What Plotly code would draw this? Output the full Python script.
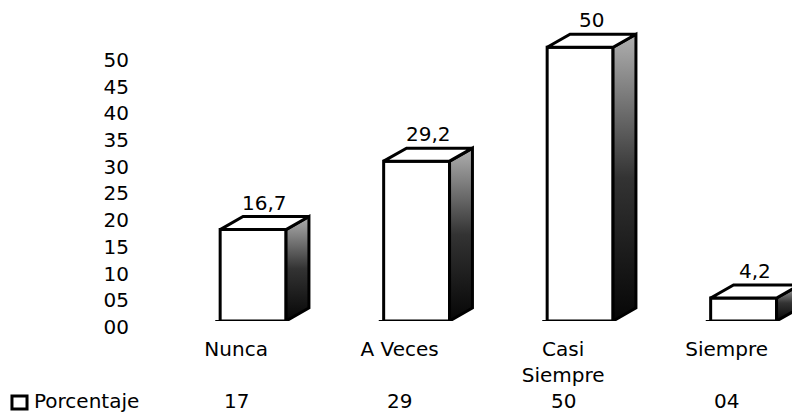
import plotly.graph_objects as go

# ---- data ----
categories = ["Nunca", "A Veces", "Casi Siempre", "Siempre"]
category_ticktext = ["Nunca", "A Veces", "Casi<br>Siempre", "Siempre"]
values = [16.7, 29.2, 50.0, 4.2]
series_name = "Porcentaje"
y_ticks = [0, 5, 10, 15, 20, 25, 30, 35, 40, 45, 50]

# ---- pseudo-3D geometry (in axis units) ----
FRONT_OFF = 0.104
HALF_W = 0.2015
DX = 0.14
DY = 2.38
FONT = dict(family="DejaVu Sans", size=20, color="black")
LW = 3

xpos = list(range(len(categories)))
fig = go.Figure()

# invisible trace so the labelled y axis is drawn
fig.add_trace(go.Scatter(x=[None], y=[None], yaxis="y", showlegend=False,
                         hoverinfo="skip"))

# front faces
fig.add_trace(go.Bar(
    x=[i + FRONT_OFF for i in xpos], y=values, width=2 * HALF_W,
    marker=dict(color="white", line=dict(color="black", width=LW)),
    yaxis="y2", showlegend=False, hoverinfo="skip",
))

for i, v in zip(xpos, values):
    L = i + FRONT_OFF - HALF_W
    R = i + FRONT_OFF + HALF_W
    # side face (gradient)
    fig.add_trace(go.Scatter(
        x=[R, R, R + DX, R + DX, R], y=[0, v, v + DY, DY, 0],
        mode="lines", fill="toself",
        fillgradient=dict(type="vertical",
                          colorscale=[[0, "#060606"], [0.5, "#333333"], [1, "#b0b0b0"]]),
        line=dict(color="black", width=LW), yaxis="y2",
        showlegend=False, hoverinfo="skip",
    ))
    # top face
    fig.add_trace(go.Scatter(
        x=[L, L + DX, R + DX, R, L], y=[v, v + DY, v + DY, v, v],
        mode="lines", fill="toself", fillcolor="white",
        line=dict(color="black", width=LW), yaxis="y2",
        showlegend=False, hoverinfo="skip",
    ))
    # floor line under the front face
    fig.add_trace(go.Scatter(
        x=[L - 0.03, R], y=[0, 0], mode="lines",
        line=dict(color="black", width=2), yaxis="y2",
        showlegend=False, hoverinfo="skip",
    ))
    # value label
    fig.add_annotation(
        x=i + FRONT_OFF + DX / 2, y=v + DY, xref="x", yref="y2",
        text=f"{v:g}".replace(".", ","), showarrow=False,
        yanchor="middle", yshift=14, font=FONT,
    )
    # data table value
    fig.add_annotation(
        x=i, y=0, xref="x", yref="paper",
        text=f"{round(v):02d}", showarrow=False,
        yanchor="middle", yshift=-80, font=FONT,
    )

# data table legend key
fig.add_annotation(
    x=0, y=0, xref="paper", yref="paper", xanchor="left", yanchor="middle",
    xshift=-106, yshift=-80, text=series_name, showarrow=False, font=FONT,
)
fig.add_shape(
    type="rect", xref="paper", yref="paper",
    x0=-0.1927, x1=-0.1697, y0=-0.282, y1=-0.2405,
    line=dict(color="black", width=3), fillcolor="white",
)

fig.update_layout(
    width=795, height=412,
    margin=dict(l=138, r=3, t=9, b=91),
    paper_bgcolor="white", plot_bgcolor="white",
    font=FONT,
    showlegend=False,
    xaxis=dict(
        range=[-0.6, 3.4], tickvals=xpos, ticktext=category_ticktext,
        showgrid=False, zeroline=False, showline=False, ticks="",
        ticklabelstandoff=14, tickfont=FONT,
    ),
    yaxis=dict(
        range=[0, 58.4], tickvals=y_ticks, ticktext=[f"{t:02d}" for t in y_ticks],
        showgrid=False, zeroline=False, showline=False, ticks="",
        ticklabelshift=6, ticklabelstandoff=8, tickfont=FONT,
    ),
    yaxis2=dict(
        range=[0, 57.0], overlaying="y", visible=False,
        showgrid=False, zeroline=False,
    ),
)

fig.write_html("out.html", config={"displayModeBar": False},
               post_script="document.body.style.margin='0';")
